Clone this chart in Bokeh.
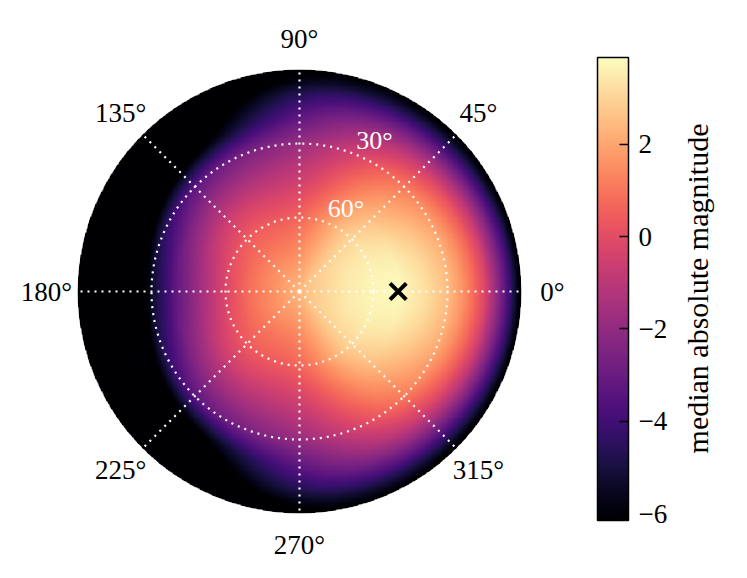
import numpy as np
from bokeh.plotting import figure
from bokeh.models import Range1d, LinearColorMapper, ColorBar, FixedTicker, CustomJSTickFormatter
from bokeh.palettes import Magma256
from bokeh.core.properties import value
from bokeh.embed import file_html
from bokeh.resources import INLINE

# ---------------- data ----------------
AZ_SAMPLES = [0, 45, 90, 135, 180]          # azimuth columns (deg); field mirrored for 180..360
EL_SAMPLES = [0, 5, 10, 15, 20, 25, 30, 40, 50, 60, 70, 80, 90]   # elevation (deg)
mag_az0 = [-6.5, -4.0, -2.0, -0.2, 0.9, 1.8, 2.5, 3.3, 3.8, 3.7, 3.5, 3.0, 2.4]
mag_az45 = [-6.5, -4.8, -3.1, -1.6, -0.4, 0.4, 1.1, 1.9, 2.6, 3.05, 3.0, 2.8, 2.4]
mag_az90 = [-6.5, -5.7, -4.7, -3.9, -3.2, -2.5, -1.8, -0.9, -0.1, 0.7, 1.3, 1.9, 2.4]
mag_az135 = [-9.5, -9.0, -8.5, -7.8, -6.8, -5.0, -3.3, -1.8, -0.5, 0.4, 1.0, 1.7, 2.4]
mag_az180 = [-10.0, -10.0, -9.5, -9.0, -8.5, -7.2, -5.4, -3.2, -1.6, -0.2, 0.9, 1.6, 2.4]

GRID_AZ = [0, 45, 90, 135, 180, 225, 270, 315]
AZ_LABELS = ["0°", "45°", "90°", "135°", "180°", "225°", "270°", "315°"]
GRID_EL = [30, 60]
EL_LABELS = ["30°", "60°"]
MARK_AZ = [0]
MARK_EL = [50]
CB_TICKS = [-6, -4, -2, 0, 2]
VMIN, VMAX = -6.15, 3.88
CB_LABEL = "median absolute magnitude"

# ---------------- layout ----------------
FONT = value("Liberation Serif")
PX = 222.0            # pixels per unit radius
CX, CY = 299, 291     # centre of the polar disc in the picture
W, H = 731, 562


def el_to_r(el):
    return (90.0 - np.asarray(el, dtype=float)) / 90.0


p = figure(width=W, height=H,
           x_range=Range1d(-CX / PX, (W - CX) / PX),
           y_range=Range1d((CY - H) / PX, CY / PX),
           x_axis_type=None, y_axis_type=None,
           output_backend="svg", toolbar_location=None, min_border=0)
p.grid.visible = False
p.outline_line_color = None
p.background_fill_color = "white"
p.border_fill_color = "white"

# ---------------- image of the field ----------------
half = np.array([mag_az0, mag_az45, mag_az90, mag_az135, mag_az180])
# full circle of azimuth columns (mirror symmetric about the 0-180 axis)
full = np.concatenate([half, half[-2:0:-1]])          # 0,45,...,315
nc = full.shape[0]
step = AZ_SAMPLES[1] - AZ_SAMPLES[0]

N = 360
g = -1 + (np.arange(N) + 0.5) * 2.0 / N
X, Y = np.meshgrid(g, g)
R = np.hypot(X, Y)
EL = (90.0 * (1 - R)).ravel()
AZ = np.degrees(np.arctan2(Y, X)).ravel() % 360
colvals = np.array([np.interp(EL, EL_SAMPLES, c) for c in full])
k = (AZ // step).astype(int) % nc
t = (AZ - k * step) / step
ar = np.arange(EL.size)
P0 = colvals[(k - 1) % nc, ar]
P1 = colvals[k, ar]
P2 = colvals[(k + 1) % nc, ar]
P3 = colvals[(k + 2) % nc, ar]
vals = 0.5 * (2 * P1 + (-P0 + P2) * t + (2 * P0 - 5 * P1 + 4 * P2 - P3) * t ** 2
              + (-P0 + 3 * P1 - 3 * P2 + P3) * t ** 3)
img = vals.reshape(N, N)
img[R > 1] = np.nan

mapper = LinearColorMapper(palette=Magma256, low=VMIN, high=VMAX, nan_color=(0, 0, 0, 0))
p.image(image=[img], x=-1, y=-1, dw=2, dh=2, color_mapper=mapper)
p.annulus(x=0, y=0, inner_radius=1.0, outer_radius=1.12, fill_color="white", line_color=None)

# ---------------- grid ----------------
r_el = el_to_r(GRID_EL)
p.circle(x=[0] * len(GRID_EL), y=[0] * len(GRID_EL), radius=r_el, fill_color=None,
         line_color="white", line_width=2.2, line_dash="2 5")
ang = np.radians(GRID_AZ)
p.segment(x0=[0] * len(ang), y0=[0] * len(ang), x1=np.cos(ang), y1=np.sin(ang),
          line_color="white", line_width=2.2, line_dash="2 5")

rl = 253 / PX
p.text(x=rl * np.cos(ang), y=rl * np.sin(ang), text=AZ_LABELS, text_align="center",
       text_baseline="middle", text_font=FONT, text_font_size="27px", text_color="black")

la = np.radians(67.5)
p.text(x=r_el * np.cos(la), y=r_el * np.sin(la), text=EL_LABELS, text_align="left",
       text_baseline="bottom", text_font=FONT, text_font_size="26px", text_color="white")

# ---------------- marker ----------------
mr = el_to_r(MARK_EL)
ma = np.radians(MARK_AZ)
p.scatter(x=mr * np.cos(ma), y=mr * np.sin(ma), marker="x", size=23, line_width=4,
          line_color="black")

# ---------------- colour bar ----------------
cb = ColorBar(color_mapper=mapper, ticker=FixedTicker(ticks=CB_TICKS),
              formatter=CustomJSTickFormatter(code="return tick < 0 ? '\u2212' + Math.abs(tick) : String(tick);"),
              location=(597, 42), width=31, height=463, padding=0, margin=0,
              label_standoff=10, major_tick_in=9, major_tick_out=0,
              major_tick_line_color="black", major_tick_line_width=1.5,
              minor_tick_line_color=None,
              bar_line_color="black", bar_line_width=1.5,
              major_label_text_font="Liberation Serif", major_label_text_font_size="27px",
              major_label_text_color="black",
              background_fill_alpha=0, border_line_color=None)
p.add_layout(cb, "center")

p.text(x=[(697 - CX) / PX], y=[(CY - 288) / PX], text=[CB_LABEL], angle=np.pi / 2,
       text_align="center", text_baseline="middle", text_font=FONT,
       text_font_size="30px", text_color="black")

open("out.html", "w").write(file_html(p, INLINE))
